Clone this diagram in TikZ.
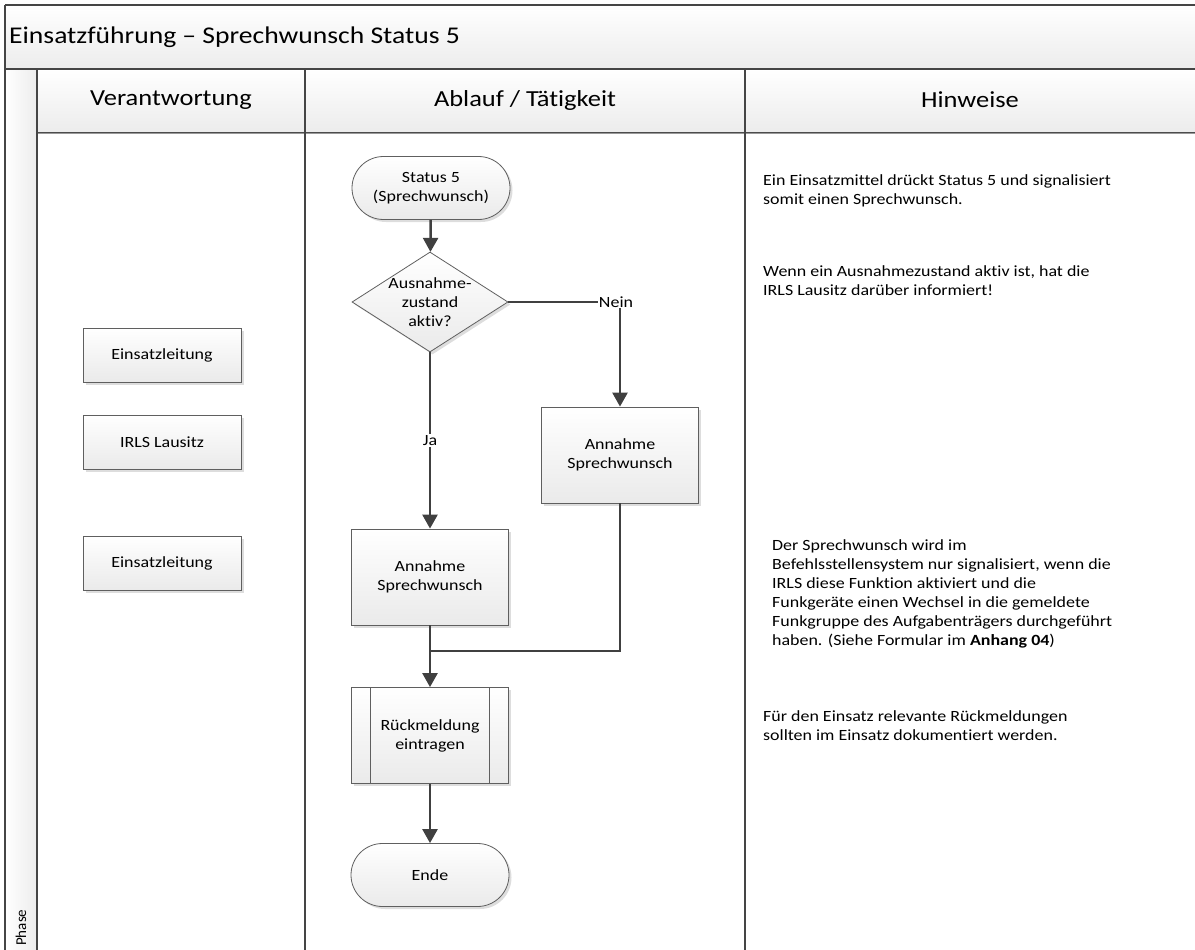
\documentclass[tikz,border=0pt]{standalone}
\usepackage{fontspec}
\setmainfont{Carlito}[FakeStretch=1.15, Ligatures={NoCommon}]
\newfontfamily\plainfont{Carlito}[Ligatures={NoCommon}]
\usetikzlibrary{arrows.meta,shapes.geometric,shadows}

\definecolor{framecol}{HTML}{454545}
\definecolor{edgecol}{HTML}{5F5F5F}
\definecolor{conncol}{HTML}{404040}
\definecolor{bandgrey}{HTML}{ECECEC}
\definecolor{fillgrey}{HTML}{EAEAEA}

\begin{document}
\begin{tikzpicture}[x=1pt,y=-1pt,
  every node/.style={text=black},
  body/.style={font=\fontsize{15.6}{19}\selectfont},
  box/.style={body, draw=edgecol, line width=0.8pt, top color=white, bottom color=fillgrey,
    drop shadow={shadow xshift=2.5pt, shadow yshift=-2.5pt, fill=black!22, opacity=0.6},
    align=center, inner sep=0pt},
  rolebox/.style={box, minimum width=158pt, minimum height=54pt},
  procbox/.style={box, minimum width=157pt, minimum height=96pt},
  terminal/.style={box, minimum width=158pt, minimum height=63pt, rounded corners=31.5pt},
  decision/.style={box, diamond, minimum width=156pt, minimum height=100pt},
  subproc/.style={procbox, path picture={
      \draw[edgecol, line width=0.8pt]
        ([xshift=19pt]path picture bounding box.north west) -- ([xshift=19pt]path picture bounding box.south west)
        ([xshift=-19pt]path picture bounding box.north east) -- ([xshift=-19pt]path picture bounding box.south east);}},
  flow/.style={draw=conncol, line width=2.5pt, -{Triangle[width=15pt,length=14pt]}},
  joinline/.style={draw=conncol, line width=2.5pt},
  lbl/.style={body, fill=white, inner sep=1pt},
  note/.style={body, anchor=north west, align=left, inner sep=0pt},
  heading/.style={font=\fontsize{23}{28}\selectfont},
  rule/.style={draw=framecol, line width=1.6pt},
]
\useasboundingbox (0,0) rectangle (1195,950);

% bands of the table
\shade[top color=white, bottom color=bandgrey] (5,5) rectangle (1197,69);
\shade[top color=white, bottom color=bandgrey] (37,69) rectangle (1197,132);
\shade[left color=white, right color=bandgrey] (5,69) rectangle (37,952);

% table rules
\draw[rule] (5,5) -- (1197,5);
\draw[rule] (5,5) -- (5,952);
\draw[rule] (5,69) -- (1197,69);
\draw[draw=black!40, line width=2.5pt] (37,133) -- (1197,133);
\draw[draw=black!70, line width=1pt] (37,132) -- (1197,132);
\draw[rule] (37,69) -- (37,952);
\draw[rule] (305,69) -- (305,952);
\draw[rule] (745,69) -- (745,952);

% titles
\node[anchor=west, font=\fontsize{24}{29}\selectfont, inner sep=0pt] (title) at (9,37) {Einsatzführung – Sprechwunsch Status 5};
\node[heading] (hresp) at (171,100) {Verantwortung};
\node[heading] (hflow) at (525,100) {Ablauf / Tätigkeit};
\node[heading] (hnote) at (970,100) {Hinweise};
\node[rotate=90, anchor=west, inner sep=0pt, font=\plainfont\fontsize{15}{18}\selectfont] (phase) at (21,946) {Phase};

% responsibilities
\node[rolebox] (role1) at (162,355) {Einsatzleitung};
\node[rolebox] (role2) at (162,442) {IRLS Lausitz};
\node[rolebox] (role3) at (162,563) {Einsatzleitung};

% flow
\node[terminal] (start) at (431,188) {Status 5\\(Sprechwunsch)};
\node[decision, label={[body, align=center]center:Ausnahme-\\zustand\\aktiv?}] (dec) at (430,302) {};
\node[procbox] (ann2) at (620,455) {Annahme\\Sprechwunsch};
\node[procbox] (ann1) at (430,577) {Annahme\\Sprechwunsch};
\node[subproc] (ruck) at (430,735.5) {Rückmeldung\\eintragen};
\node[terminal] (ende) at (430,875) {Ende};

\coordinate (neinc) at (dec.east -| ann2.north);
\coordinate (merge) at (430,651);

\draw[flow] (start) -- (dec);
\draw[flow] (dec.east) -- (neinc) node[lbl, xshift=-4pt] {Nein} -- (ann2.north);
\draw[flow] (dec.south) -- node[lbl] {Ja} (ann1.north);
\draw[joinline] (ann2.south) |- (merge);
\draw[flow] (ann1.south) -- (ruck.north);
\draw[flow] (ruck.south) -- (ende.north);

% notes
\node[note] (note1) at (763,174) {Ein Einsatzmittel drückt Status 5 und signalisiert\\somit einen Sprechwunsch.};
\node[note] (note2) at (763,265) {Wenn ein Ausnahmezustand aktiv ist, hat die\\IRLS Lausitz darüber informiert!};
\node[note] (note3) at (772,539) {Der Sprechwunsch wird im\\Befehlsstellensystem nur signalisiert, wenn die\\IRLS diese Funktion aktiviert und die\\Funkgeräte einen Wechsel in die gemeldete\\Funkgruppe des Aufgabenträgers durchgeführt\\haben. (Siehe Formular im \textbf{Anhang 04})};
\node[note] (note4) at (763,710) {Für den Einsatz relevante Rückmeldungen\\sollten im Einsatz dokumentiert werden.};
\end{tikzpicture}
\end{document}
